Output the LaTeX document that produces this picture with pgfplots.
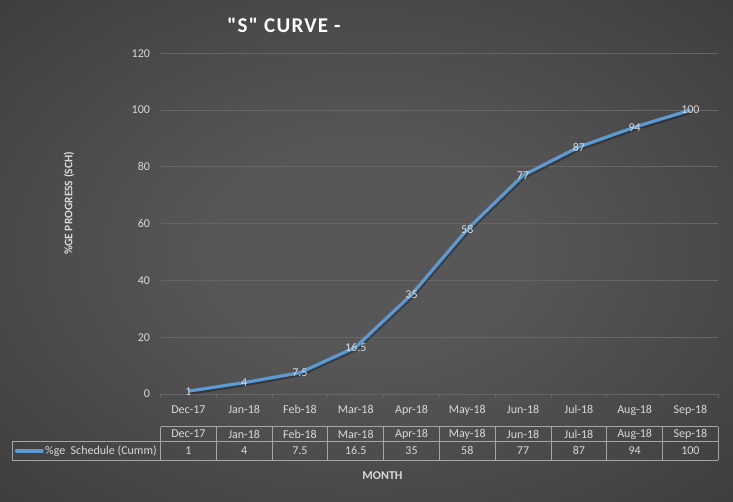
\documentclass[border=0pt]{standalone}
\usepackage{fontspec}
\setmainfont{Carlito}
\usepackage{pgfplots}
\pgfplotsset{compat=1.18}
\definecolor{bgin}{HTML}{575757}
\definecolor{bgout}{HTML}{262626}
\definecolor{lineblue}{HTML}{5B9BD5}
\definecolor{gridc}{HTML}{666666}
\definecolor{txt}{HTML}{D9D9D9}
\definecolor{tbl}{HTML}{A6A6A6}
\pgfdeclareradialshading{bgshade}{\pgfpoint{0bp}{0bp}}{color(0bp)=(bgin); color(10bp)=(bgin); color(60bp)=(bgout); color(100bp)=(bgout)}
\begin{document}
\begin{tikzpicture}[x=1pt,y=1pt]
\shade[shading=bgshade] (0,0) rectangle (733,502);
\useasboundingbox (0,0) rectangle (733,502);
\begin{axis}[
  at={(160.5pt,108pt)}, anchor=south west,
  scale only axis, width=557.8pt, height=340.7pt,
  xmin=-0.5, xmax=9.5, ymin=0, ymax=120,
  ytick={0,20,...,120},
  xtick={0,...,9},
  xticklabels={Dec-17,Jan-18,Feb-18,Mar-18,Apr-18,May-18,Jun-18,Jul-18,Aug-18,Sep-18},
  minor xtick={-0.5,0.5,...,9.5},
  axis x line=bottom, axis y line=left,
  x axis line style={draw=gridc, line width=0.75pt, -},
  y axis line style={draw=none},
  major tick length=0pt, minor tick length=4pt,
  xtick align=outside,
  minor tick style={draw=gridc, line width=0.75pt},
  ymajorgrids, grid style={draw=gridc, line width=0.75pt},
  /pgf/number format/assume math mode=true,
  tick label style={text=txt, font=\fontsize{12}{14}\selectfont},
  yticklabel style={anchor=east, xshift=-7pt},
  xticklabel style={yshift=-8pt},
  clip=false,
]
\addplot[black, opacity=0.3, line width=3.2pt, xshift=1pt, yshift=-2pt, forget plot] coordinates {
(0,1) (1,4) (2,7.5) (3,16.5) (4,35) (5,58) (6,77) (7,87) (8,94) (9,100)};
\addplot[lineblue, line width=3.2pt, line join=round, mark=none,
  nodes near coords,
  every node near coord/.style={anchor=center, text=txt, font=\fontsize{12}{14}\selectfont}]
  coordinates {
(0,1) (1,4) (2,7.5) (3,16.5) (4,35) (5,58) (6,77) (7,87) (8,94) (9,100)};
\end{axis}
% data table
\draw[tbl, line width=0.8pt] (160.5,75.3) -- (718.3,75.3);
\draw[tbl, line width=0.8pt] (12.3,60.7) -- (718.3,60.7);
\draw[tbl, line width=0.8pt] (12.3,41.7) -- (718.3,41.7);
\draw[tbl, line width=0.8pt] (12.3,60.7) -- (12.3,41.7);
\foreach \i in {0,...,10} {
  \draw[tbl, line width=0.8pt] ({160.5+55.78*\i},75.3) -- ({160.5+55.78*\i},41.7);
}
\foreach \m [count=\i from 0] in {Dec-17,Jan-18,Feb-18,Mar-18,Apr-18,May-18,Jun-18,Jul-18,Aug-18,Sep-18} {
  \node[text=txt, font=\fontsize{12}{14}\selectfont] at ({160.5+55.78*\i+27.89},68) {\m};
}
\foreach \v [count=\i from 0] in {1,4,7.5,16.5,35,58,77,87,94,100} {
  \node[text=txt, font=\fontsize{12}{14}\selectfont] at ({160.5+55.78*\i+27.89},51.2) {\v};
}
\draw[lineblue, line width=3.5pt, line cap=round] (16.5,51.2) -- (42,51.2);
\node[anchor=west, inner sep=0pt, text=txt, font=\fontsize{12}{14}\selectfont] at (45,51.2) {\%ge\ \ Schedule (Cumm)};
% titles
\node[text=white, font=\fontsize{21}{24}\bfseries\addfontfeature{Ligatures=TeXOff,LetterSpace=6}] at (284,476.5) {"S" CURVE -};
\node[rotate=90, text=txt, font=\fontsize{11.5}{14}\bfseries] at (69,298.5) {\%GE PROGRESS (SCH)};
\node[text=txt, font=\fontsize{12}{14}\bfseries] at (382.5,26.3) {MONTH};
\end{tikzpicture}
\end{document}
